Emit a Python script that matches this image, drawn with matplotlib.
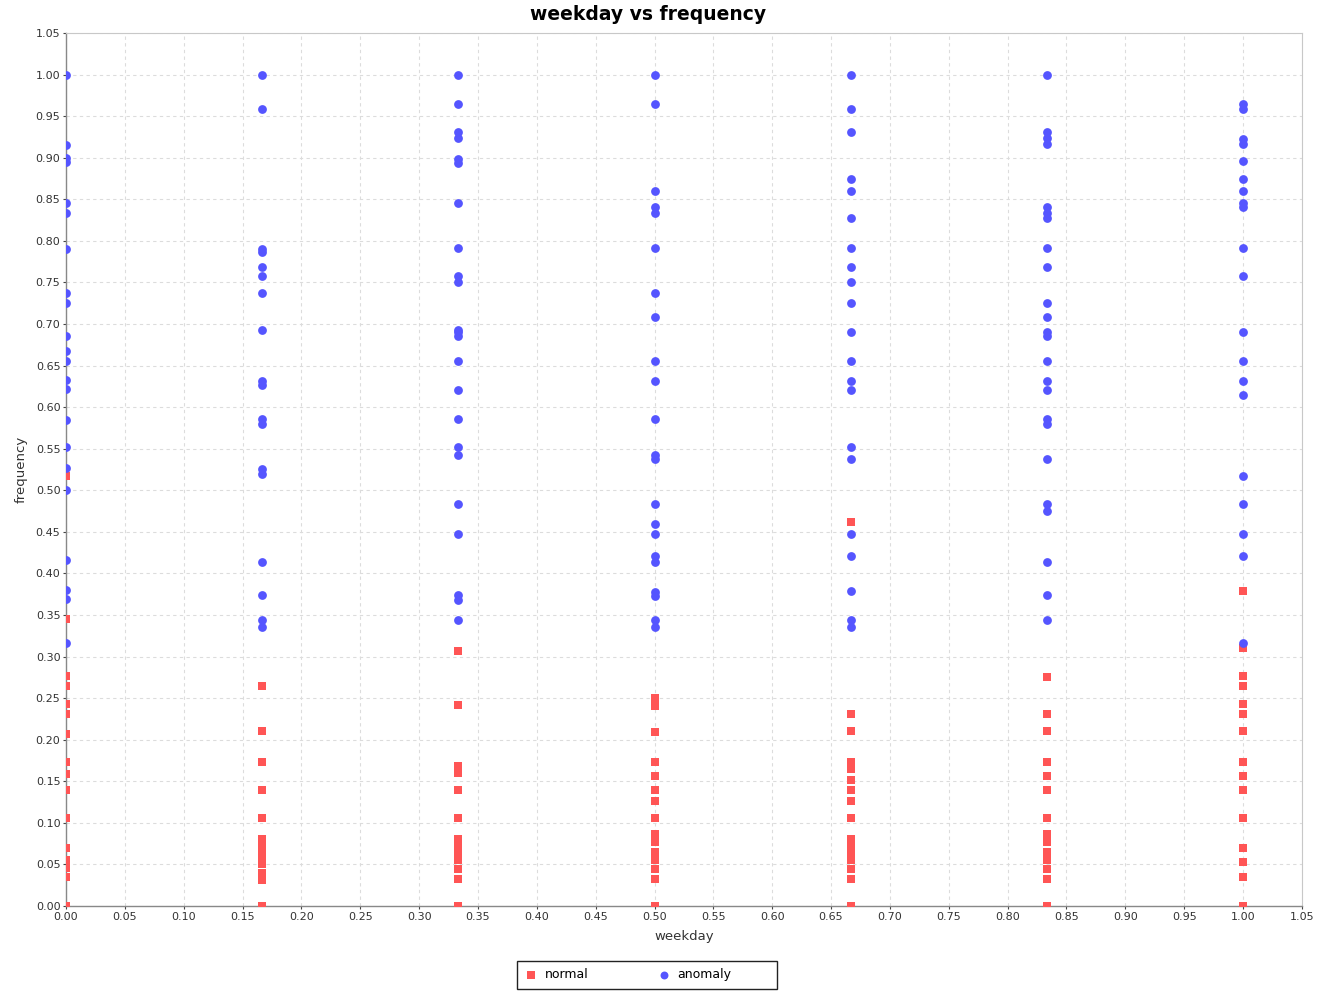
import numpy as np
import matplotlib
matplotlib.use("Agg")
import matplotlib.pyplot as plt
from matplotlib.patches import Rectangle
from matplotlib.ticker import MultipleLocator, FormatStrFormatter

# weekday positions (scaled 0..1)
weekdays = [0.0, 1 / 6, 2 / 6, 3 / 6, 4 / 6, 5 / 6, 1.0]

# frequency values read per weekday column
anomaly_freq = [
    [1.0, 0.915, 0.90, 0.895, 0.845, 0.833, 0.79, 0.737, 0.725, 0.685, 0.667, 0.656,
     0.633, 0.622, 0.584, 0.552, 0.527, 0.50, 0.416, 0.38, 0.369, 0.316],
    [1.0, 0.958, 0.79, 0.786, 0.769, 0.758, 0.737, 0.693, 0.632, 0.627, 0.586, 0.58,
     0.526, 0.519, 0.414, 0.374, 0.344, 0.335],
    [1.0, 0.965, 0.931, 0.924, 0.898, 0.894, 0.846, 0.792, 0.758, 0.751, 0.693, 0.69,
     0.685, 0.655, 0.621, 0.586, 0.552, 0.542, 0.484, 0.448, 0.374, 0.368, 0.344],
    [1.0, 0.965, 0.86, 0.841, 0.833, 0.792, 0.737, 0.708, 0.655, 0.632, 0.586, 0.542,
     0.538, 0.484, 0.46, 0.448, 0.421, 0.414, 0.378, 0.373, 0.344, 0.335],
    [1.0, 0.958, 0.931, 0.874, 0.86, 0.827, 0.792, 0.769, 0.751, 0.725, 0.69, 0.655,
     0.632, 0.621, 0.552, 0.538, 0.448, 0.421, 0.379, 0.344, 0.335],
    [1.0, 0.931, 0.924, 0.916, 0.841, 0.833, 0.827, 0.792, 0.769, 0.725, 0.708, 0.69,
     0.685, 0.655, 0.632, 0.621, 0.586, 0.58, 0.538, 0.484, 0.475, 0.414, 0.374, 0.344],
    [0.965, 0.958, 0.923, 0.916, 0.896, 0.874, 0.86, 0.846, 0.841, 0.792, 0.758, 0.69,
     0.655, 0.632, 0.615, 0.517, 0.484, 0.448, 0.421, 0.316],
]

normal_freq = [
    [0.517, 0.345, 0.277, 0.265, 0.243, 0.231, 0.207, 0.173, 0.159, 0.14, 0.106, 0.07,
     0.055, 0.046, 0.035, 0.0],
    [0.265, 0.211, 0.173, 0.14, 0.106, 0.08, 0.072, 0.065, 0.058, 0.05, 0.04, 0.031, 0.0],
    [0.307, 0.242, 0.168, 0.16, 0.14, 0.106, 0.08, 0.072, 0.065, 0.055, 0.045, 0.033, 0.0],
    [0.25, 0.241, 0.209, 0.173, 0.156, 0.14, 0.126, 0.106, 0.087, 0.077, 0.065, 0.055,
     0.045, 0.033, 0.0],
    [0.462, 0.231, 0.211, 0.173, 0.165, 0.152, 0.14, 0.126, 0.106, 0.08, 0.072, 0.065,
     0.055, 0.045, 0.033, 0.0],
    [0.276, 0.231, 0.211, 0.173, 0.156, 0.14, 0.106, 0.087, 0.077, 0.065, 0.055, 0.045,
     0.033, 0.0],
    [0.379, 0.31, 0.277, 0.265, 0.243, 0.231, 0.211, 0.173, 0.156, 0.14, 0.106, 0.07,
     0.053, 0.035, 0.0],
]


def flatten(cols):
    xs, ys = [], []
    for wd, vals in zip(weekdays, cols):
        xs.extend([wd] * len(vals))
        ys.extend(vals)
    return np.array(xs), np.array(ys)


nx, ny = flatten(normal_freq)
ax_, ay_ = flatten(anomaly_freq)

fig = plt.figure(figsize=(13.31, 9.91), dpi=100)
ax = fig.add_axes([0.0496, 0.0858, 0.9285, 0.8809])

# markers on the axis edges get cut in half, like the original
ax.scatter(nx, ny, marker="s", s=34, color="#FF5555", linewidths=0, label="normal",
           zorder=3)
ax.scatter(ax_, ay_, marker="o", s=40, color="#5555FF", linewidths=0, label="anomaly",
           zorder=3)

ax.set_xlim(0, 1.05)
ax.set_ylim(0, 1.05)
ax.xaxis.set_major_locator(MultipleLocator(0.05))
ax.yaxis.set_major_locator(MultipleLocator(0.05))
ax.xaxis.set_major_formatter(FormatStrFormatter("%.2f"))
ax.yaxis.set_major_formatter(FormatStrFormatter("%.2f"))
ax.tick_params(labelsize=8, colors="#444444", length=2, width=0.8, pad=2)
ax.tick_params(axis="both", labelcolor="#333333")

ax.grid(True, color="#dcdcdc", linestyle=(0, (3, 3)), linewidth=0.8)
ax.set_axisbelow(True)
for side in ["top", "right"]:
    ax.spines[side].set_color("#c8c8c8")
    ax.spines[side].set_linewidth(0.8)
for side in ["left", "bottom"]:
    ax.spines[side].set_color("#888888")
    ax.spines[side].set_linewidth(1.0)

ax.set_xlabel("weekday", fontsize=9.5, color="#333333", labelpad=6)
ax.set_ylabel("frequency", fontsize=9.5, color="#333333", labelpad=6)
fig.suptitle("weekday vs frequency", x=0.487, y=0.985, va="center",
             fontsize=13.5, fontweight="bold")

# legend box is wider than its entries (trailing space on the right)
fig.patches.append(Rectangle((0.3884, 0.002), 0.1953, 0.0283, transform=fig.transFigure,
                             fill=False, edgecolor="#222222", linewidth=1.0))
leg = fig.legend(loc="center left", bbox_to_anchor=(0.3914, 0.0162), ncol=2, fontsize=9,
                 frameon=False, columnspacing=5.2, handletextpad=0.32, handlelength=1.6,
                 markerscale=0.9, borderpad=0, borderaxespad=0)

fig.savefig("out.png", dpi=100)
